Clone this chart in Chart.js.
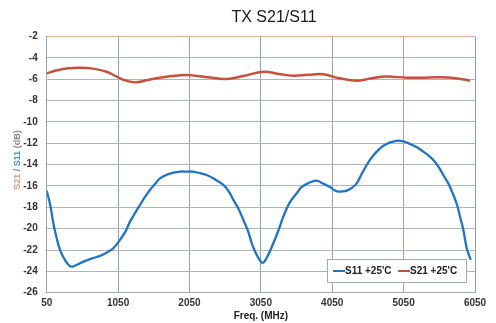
<!DOCTYPE html>
<html>
<head>
<meta charset="utf-8">
<script src="https://cdn.jsdelivr.net/npm/chart.js@4.4.1/dist/chart.umd.min.js"></script>
<style>
  html, body { margin: 0; padding: 0; background: #ffffff; }
  #wrap { width: 496px; height: 323px; position: relative; }
</style>
</head>
<body>
<div id="wrap"><canvas id="c" width="496" height="323"></canvas></div>
<script>
const chartTitle = 'TX S21/S11';
const xAxisTitle = 'Freq. (MHz)';
const xTickValues = [50, 1050, 2050, 3050, 4050, 5050, 6050];
const yMin = -26, yMax = -2, yStep = 2;

const s11Label = "S11 +25'C";
const s11Freq = [50, 100, 143, 190, 236, 306, 386, 450, 563, 680, 797, 900, 983, 1077, 1150, 1217, 1290, 1357, 1430, 1497, 1570, 1637, 1730, 1824, 1920, 2011, 2100, 2200, 2291, 2400, 2525, 2600, 2665, 2735, 2805, 2870, 2922, 2980, 3040, 3085, 3150, 3225, 3300, 3365, 3450, 3552, 3620, 3692, 3760, 3833, 3930, 4019, 4080, 4136, 4200, 4253, 4320, 4393, 4460, 4533, 4600, 4673, 4740, 4813, 4900, 4977, 5060, 5140, 5230, 5326, 5400, 5466, 5540, 5606, 5680, 5747, 5800, 5840, 5887, 5934, 5990];
const s11Db = [-16.43, -17.8, -19.49, -20.9, -21.99, -22.93, -23.55, -23.45, -23.09, -22.8, -22.55, -22.2, -21.83, -21.05, -20.3, -19.34, -18.5, -17.78, -17.0, -16.37, -15.8, -15.28, -14.95, -14.75, -14.65, -14.65, -14.65, -14.8, -14.97, -15.35, -15.9, -16.5, -17.3, -18.1, -19.18, -20.2, -21.36, -22.3, -23.0, -23.18, -22.5, -21.36, -20.1, -18.87, -17.6, -16.68, -16.1, -15.81, -15.6, -15.5, -15.8, -16.1, -16.4, -16.53, -16.5, -16.43, -16.2, -15.75, -14.9, -14.03, -13.35, -12.78, -12.35, -12.06, -11.85, -11.75, -11.85, -12.06, -12.35, -12.78, -13.15, -13.56, -14.2, -14.97, -15.8, -16.84, -17.8, -18.87, -20.12, -21.83, -22.93];

const s21Label = "S21 +25'C";
const s21Freq = [50, 200, 350, 517, 700, 890, 1030, 1150, 1287, 1450, 1590, 1800, 2010, 2300, 2572, 2800, 3085, 3300, 3505, 3700, 3925, 4150, 4393, 4600, 4813, 5093, 5300, 5560, 5800, 5980];
const s21Db = [-5.44, -5.15, -4.97, -4.91, -5.0, -5.29, -5.75, -6.1, -6.28, -6.1, -5.9, -5.7, -5.6, -5.8, -5.97, -5.7, -5.29, -5.5, -5.66, -5.58, -5.53, -5.9, -6.13, -5.9, -5.75, -5.85, -5.85, -5.82, -5.92, -6.13];

const FONT = '"Liberation Sans", Arial, sans-serif';
const BLUE = '#1f74c6';
const RED = '#c9513c';

const toXY = (xs, ys) => xs.map((x, i) => ({ x: x, y: ys[i] }));

const extras = {
  id: 'extras',
  afterDraw(chart) {
    const ctx = chart.ctx;
    ctx.save();
    // Title
    ctx.fillStyle = '#1a1a1a';
    ctx.font = '16px ' + FONT;
    ctx.textAlign = 'center';
    ctx.textBaseline = 'middle';
    ctx.fillText(chartTitle, 274, 17.5);

    // Y-axis title with coloured parts
    ctx.translate(18, 160);
    ctx.rotate(-Math.PI / 2);
    ctx.font = 'bold 9px ' + FONT;
    ctx.textBaseline = 'middle';
    ctx.textAlign = 'left';
    const parts = [['S21', '#e09a80'], [' / ', '#6a9ed0'], ['S11', '#4a90d8'], [' (dB)', '#8a8a8a']];
    let total = 0;
    parts.forEach(p => total += ctx.measureText(p[0]).width);
    let x = -total / 2;
    parts.forEach(p => {
      ctx.fillStyle = p[1];
      ctx.fillText(p[0], x, 0);
      x += ctx.measureText(p[0]).width;
    });
    ctx.restore();

    // Legend box inside plot area
    ctx.save();
    const bx = 327, by = 259, bw = 139, bh = 23;
    ctx.fillStyle = '#ffffff';
    ctx.fillRect(bx, by, bw, bh);
    ctx.strokeStyle = '#a0a8b0';
    ctx.lineWidth = 1;
    ctx.strokeRect(bx + 0.5, by + 0.5, bw, bh);
    ctx.font = 'bold 10px ' + FONT;
    ctx.textBaseline = 'middle';
    ctx.textAlign = 'left';
    const cy = by + bh / 2 + 0.5;
    const items = chart.data.datasets.map((d, i) => ({ label: d.label, color: d.borderColor, sx: i === 0 ? 333 : 398 }));
    items.forEach(it => {
      ctx.strokeStyle = it.color;
      ctx.lineWidth = 2;
      ctx.beginPath();
      ctx.moveTo(it.sx, cy);
      ctx.lineTo(it.sx + 12, cy);
      ctx.stroke();
      ctx.fillStyle = '#222222';
      ctx.fillText(it.label, it.sx + 12, cy);
    });
    ctx.restore();
  }
};

const vColors = { 50: '#8fa8c0', 1050: '#8aa2bb', 2050: '#a8a0a8', 3050: '#8aa2bb', 4050: '#a89c9c', 5050: '#c09c92', 6050: '#7f9fc0' };

new Chart(document.getElementById('c'), {
  type: 'line',
  data: {
    datasets: [
      { label: s11Label, data: toXY(s11Freq, s11Db), borderColor: BLUE, backgroundColor: BLUE, borderWidth: 2.3, pointRadius: 0, tension: 0.35, fill: false },
      { label: s21Label, data: toXY(s21Freq, s21Db), borderColor: RED, backgroundColor: RED, borderWidth: 2.5, pointRadius: 0, tension: 0.4, fill: false }
    ]
  },
  options: {
    responsive: false,
    animation: false,
    devicePixelRatio: 1,
    layout: { padding: { left: 0, right: 21, top: 36.6, bottom: 0 } },
    plugins: {
      legend: { display: false },
      title: { display: false },
      tooltip: { enabled: false }
    },
    scales: {
      x: {
        type: 'linear',
        min: 50,
        max: 6050,
        afterBuildTicks: (s) => { s.ticks = xTickValues.map(v => ({ value: v })); },
        afterFit: (s) => { s.height = 30.3; },
        ticks: {
          color: '#333333',
          font: { family: FONT, size: 10, weight: 'bold' },
          padding: 5,
          maxRotation: 0,
          autoSkip: false,
          callback: (v) => String(v)
        },
        grid: {
          drawTicks: false,
          lineWidth: 1,
          color: (c) => vColors[c.tick && c.tick.value] || '#8fa8c0'
        },
        border: { display: true, color: '#9aa8b8' },
        title: {
          display: true,
          text: xAxisTitle,
          color: '#222222',
          font: { family: FONT, size: 10, weight: 'bold' },
          padding: { top: 0, bottom: 1 }
        }
      },
      y: {
        min: yMin,
        max: yMax,
        afterFit: (s) => { s.width = 46.7; },
        ticks: {
          stepSize: yStep,
          color: '#333333',
          font: { family: FONT, size: 10, weight: 'bold' },
          padding: 9
        },
        grid: {
          drawTicks: false,
          lineWidth: 1,
          color: (c) => (c.tick && c.tick.value === yMax) ? '#e8a898' : '#aab6c4'
        },
        border: { display: true, color: '#8fa8c0' }
      }
    }
  },
  plugins: [extras]
});
</script>
</body>
</html>
